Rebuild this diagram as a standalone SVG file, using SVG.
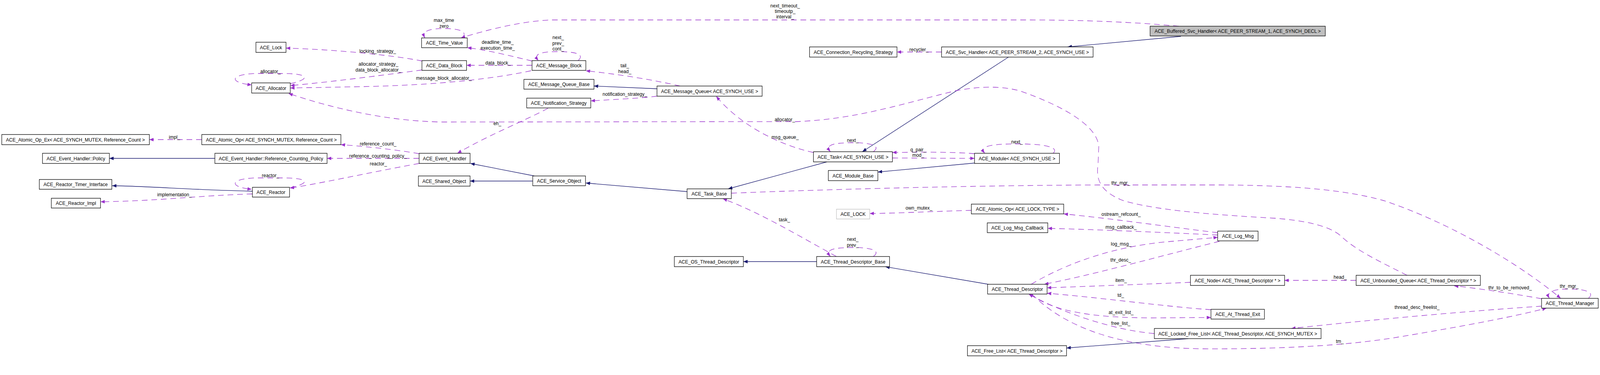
<svg xmlns="http://www.w3.org/2000/svg" width="4520" height="959" viewBox="0 0 4520 959">
<style>
.bg{fill:#ffffff}
.node rect{fill:#ffffff;stroke:#000000;stroke-width:1.3}
.node.root rect{fill:#bfbfbf}
.node.ext rect{stroke:#bfbfbf}
text{font-family:"Liberation Sans",Arial,sans-serif;font-size:13.3px;fill:#000000}
.node text{text-anchor:middle}
.lbl{text-anchor:middle}
.use{fill:none;stroke:#9a32cd;stroke-width:1.3;stroke-dasharray:16,11;marker-end:url(#ap)}
.loop{fill:none;stroke:#9a32cd;stroke-width:1.3;stroke-dasharray:16,11;marker-end:url(#ap)}
.inh{fill:none;stroke:#191970;stroke-width:1.3;marker-end:url(#an)}
</style>
<defs>
<marker id="ap" markerWidth="13" markerHeight="9" refX="12" refY="4.5" orient="auto" markerUnits="userSpaceOnUse"><path d="M0,0 L12,4.5 L0,9 z" fill="#9a32cd"/></marker>
<marker id="an" markerWidth="13" markerHeight="9" refX="12" refY="4.5" orient="auto" markerUnits="userSpaceOnUse"><path d="M0,0 L12,4.5 L0,9 z" fill="#191970"/></marker>
</defs>
<rect class="bg" x="0" y="0" width="4520" height="959"/>
<g id="diagram" transform="scale(0.906195,1)">
<g id="edges">
<path class="use" d="M570,357 L422,357"/>
<text class="lbl" x="493" y="355">impl_</text>
<path class="inh" d="M607,405 L309,405"/>
<path class="inh" d="M713,489 C550,486 420,476 317,475"/>
<path class="use" d="M713,496 C560,500 450,514 284,516"/>
<text class="lbl" x="493" y="502">implementation_</text>
<path class="loop" d="M820,480 C880,468 872,455 800,455 L720,455 C645,458 650,479 711,484"/>
<text class="lbl" x="764" y="453">reactor_</text>
<path class="loop" d="M820,214 C880,202 872,188 800,188 L720,188 C645,191 650,212 711,217"/>
<text class="lbl" x="764" y="187">allocator_</text>
<path class="use" d="M1184,418 C1050,440 900,470 819,481"/>
<text class="lbl" x="1069" y="423">reactor_</text>
<path class="use" d="M1184,405 L924,405"/>
<text class="lbl" x="1068" y="403">reference_counting_policy_</text>
<path class="use" d="M1184,393 C1100,380 1000,372 963,370"/>
<text class="lbl" x="1068" y="372">reference_count_</text>
<path class="inh" d="M1510,450 L1329,418"/>
<path class="inh" d="M1505,463 L1328,463"/>
<path class="inh" d="M1941,490 L1655,468"/>
<path class="use" d="M1548,277 C1480,310 1380,345 1292,392"/>
<text class="lbl" x="1405" y="320">eh_</text>
<path class="use" d="M1856,246 C1800,252 1720,255 1669,258"/>
<text class="lbl" x="1765" y="245">notification_strategy_</text>
<path class="inh" d="M1856,227 L1678,220"/>
<path class="use" d="M1921,220 C1850,205 1750,190 1655,181"/>
<text class="lbl" x="1765" y="172">tail_</text>
<text class="lbl" x="1765" y="187">head_</text>
<path class="loop" d="M1633,155 C1652,140 1630,132 1577,132 C1520,132 1508,140 1521,155"/>
<text class="lbl" x="1577" y="100">next_</text>
<text class="lbl" x="1577" y="115">prev_</text>
<text class="lbl" x="1577" y="129">cont_</text>
<path class="use" d="M1503,167 L1318,167"/>
<text class="lbl" x="1407" y="165">data_block_</text>
<path class="use" d="M1503,156 C1450,145 1380,128 1320,122"/>
<text class="lbl" x="1406" y="112">deadline_time_</text>
<text class="lbl" x="1406" y="127">execution_time_</text>
<path class="use" d="M1500,181 C1400,200 1250,218 1000,222 L820,225"/>
<text class="lbl" x="1254" y="204">message_block_allocator_</text>
<path class="use" d="M1192,179 C1100,190 950,208 820,219"/>
<text class="lbl" x="1069" y="168">allocator_strategy_</text>
<text class="lbl" x="1069" y="183">data_block_allocator_</text>
<path class="use" d="M1193,156 C1100,140 950,127 808,123"/>
<text class="lbl" x="1067" y="135">locking_strategy_</text>
<path class="loop" d="M1305,97 C1320,85 1310,73 1254,73 C1205,73 1193,82 1200,97"/>
<text class="lbl" x="1254" y="56">max_time</text>
<text class="lbl" x="1254" y="71">zero</text>
<path class="use" d="M3330,67 C3200,56 3050,51 2900,51 L1560,51 C1480,53 1380,75 1302,97"/>
<text class="lbl" x="2218" y="19">next_timeout_</text>
<text class="lbl" x="2218" y="33">timeoutp_</text>
<text class="lbl" x="2218" y="47">interval_</text>
<path class="inh" d="M3336,93 L3016,120"/>
<path class="use" d="M2660,133 L2534,133"/>
<text class="lbl" x="2596" y="131">recycler_</text>
<path class="inh" d="M2849,146 L2436,388"/>
<path class="inh" d="M2336,414 C2250,435 2150,460 2057,483"/>
<path class="loop" d="M2467,388 C2487,375 2470,365 2409,365 C2345,365 2333,373 2346,388"/>
<text class="lbl" x="2409" y="363">next_</text>
<path class="use" d="M2298,390 C2220,375 2100,330 2023,246"/>
<text class="lbl" x="2218" y="355">msg_queue_</text>
<path class="use" d="M2753,393 C2680,388 2600,389 2521,390"/>
<text class="lbl" x="2594" y="387">q_pair_</text>
<path class="use" d="M2521,404 L2753,405"/>
<text class="lbl" x="2594" y="401">mod_</text>
<path class="inh" d="M2753,417 L2480,440"/>
<path class="loop" d="M2975,392 C2992,378 2960,368 2873,368 C2790,368 2768,376 2782,392"/>
<text class="lbl" x="2873" y="367">next_</text>
<path class="use" d="M3975,704 C3900,670 3830,640 3790,605 C3760,580 3700,565 3600,558 C3400,548 3250,535 3170,512 C3110,490 3095,460 3102,420 L3104,375 C3100,320 3000,270 2880,232 C2820,218 2760,222 2700,232 C2550,265 2420,305 2250,311 L1250,312 C1100,310 950,280 815,239"/>
<text class="lbl" x="2217" y="310">allocator_</text>
<path class="use" d="M2066,494 C2400,482 2800,474 3100,473 L3450,473 C3650,474 3800,485 3909,513 C4100,570 4300,680 4409,763"/>
<text class="lbl" x="3166" y="472">thr_mgr_</text>
<path class="loop" d="M4487,763 C4507,748 4480,739 4432,739 C4385,739 4368,748 4377,763"/>
<text class="lbl" x="4433" y="736">thr_mgr_</text>
<path class="use" d="M4355,764 C4300,755 4200,740 4108,731"/>
<text class="lbl" x="4266" y="740">thr_to_be_removed_</text>
<path class="use" d="M3831,717 L3629,717"/>
<text class="lbl" x="3786" y="713">head_</text>
<path class="use" d="M3363,722 C3200,728 3050,733 2958,736"/>
<text class="lbl" x="3167" y="721">item_</text>
<path class="use" d="M3421,792 C3300,785 3100,760 2958,750"/>
<text class="lbl" x="3166" y="759">td_</text>
<path class="use" d="M2910,752 C2980,800 3100,812 3250,813 L3421,812"/>
<text class="lbl" x="3167" y="803">at_exit_list_</text>
<path class="use" d="M3261,853 C3150,845 3000,800 2906,752"/>
<text class="lbl" x="3166" y="831">free_list_</text>
<path class="use" d="M2915,752 C3000,830 3150,890 3400,892 C3600,893 3800,885 3950,862 C4150,832 4300,805 4369,788"/>
<text class="lbl" x="3785" y="877">tm_</text>
<path class="use" d="M4355,783 C4150,795 3850,820 3648,840"/>
<text class="lbl" x="4003" y="790">thread_desc_freelist_</text>
<path class="inh" d="M3357,866 L3013,890"/>
<path class="inh" d="M2792,727 L2501,682"/>
<path class="inh" d="M2307,669 L2100,669"/>
<path class="loop" d="M2467,656 C2487,643 2470,633 2409,633 C2345,633 2333,641 2346,656"/>
<text class="lbl" x="2409" y="616">next_</text>
<text class="lbl" x="2409" y="631">prev_</text>
<path class="use" d="M2363,656 C2250,600 2150,545 2042,508"/>
<text class="lbl" x="2216" y="566">task_</text>
<path class="use" d="M2744,538 C2650,540 2550,545 2457,546"/>
<text class="lbl" x="2596" y="536">own_mutex_</text>
<path class="use" d="M3440,595 C3300,580 3150,560 3005,547"/>
<text class="lbl" x="3167" y="552">ostream_refcount_</text>
<path class="use" d="M3440,601 C3300,595 3100,587 2960,584"/>
<text class="lbl" x="3167" y="585">msg_callback_</text>
<path class="use" d="M2913,727 C3020,670 3150,630 3300,618 L3440,607"/>
<text class="lbl" x="3167" y="628">log_msg_</text>
<path class="use" d="M3445,617 C3300,650 3100,700 2950,727"/>
<text class="lbl" x="3166" y="669">thr_desc_</text>
</g>
<g id="n1" class="node"><rect x="5" y="344" width="417" height="26"/><text x="213" y="361.7">ACE_Atomic_Op_Ex&lt; ACE_SYNCH_MUTEX, Reference_Count &gt;</text></g>
<g id="n2" class="node"><rect x="120" y="392" width="189" height="26"/><text x="214.5" y="409.7">ACE_Event_Handler::Policy</text></g>
<g id="n3" class="node"><rect x="111" y="459" width="205" height="25"/><text x="213.5" y="476.2">ACE_Reactor_Timer_Interface</text></g>
<g id="n4" class="node"><rect x="145" y="507" width="139" height="25"/><text x="214.5" y="524.2">ACE_Reactor_Impl</text></g>
<g id="n5" class="node"><rect x="723" y="108" width="85" height="26"/><text x="765.5" y="125.7">ACE_Lock</text></g>
<g id="n6" class="node"><rect x="711" y="212" width="109" height="26"/><text x="765.5" y="229.7">ACE_Allocator</text></g>
<g id="n7" class="node"><rect x="570" y="344" width="393" height="26"/><text x="766.5" y="361.7">ACE_Atomic_Op&lt; ACE_SYNCH_MUTEX, Reference_Count &gt;</text></g>
<g id="n8" class="node"><rect x="607" y="392" width="317" height="26"/><text x="765.5" y="409.7">ACE_Event_Handler::Reference_Counting_Policy</text></g>
<g id="n9" class="node"><rect x="713" y="479" width="105" height="25"/><text x="765.5" y="496.2">ACE_Reactor</text></g>
<g id="n10" class="node"><rect x="1191" y="97" width="129" height="25"/><text x="1255.5" y="114.2">ACE_Time_Value</text></g>
<g id="n11" class="node"><rect x="1192" y="155" width="126" height="25"/><text x="1255" y="172.2">ACE_Data_Block</text></g>
<g id="n12" class="node"><rect x="1184" y="392" width="144" height="26"/><text x="1256" y="409.7">ACE_Event_Handler</text></g>
<g id="n13" class="node"><rect x="1182" y="450" width="146" height="26"/><text x="1255" y="467.7">ACE_Shared_Object</text></g>
<g id="n14" class="node"><rect x="1503" y="155" width="152" height="25"/><text x="1579" y="172.2">ACE_Message_Block</text></g>
<g id="n15" class="node"><rect x="1480" y="203" width="198" height="25"/><text x="1579" y="220.2">ACE_Message_Queue_Base</text></g>
<g id="n16" class="node"><rect x="1488" y="251" width="181" height="25"/><text x="1578.5" y="268.2">ACE_Notification_Strategy</text></g>
<g id="n17" class="node"><rect x="1856" y="220" width="297" height="26"/><text x="2004.5" y="237.7">ACE_Message_Queue&lt; ACE_SYNCH_USE &gt;</text></g>
<g id="n18" class="node"><rect x="1505" y="450" width="149" height="25"/><text x="1579.5" y="467.2">ACE_Service_Object</text></g>
<g id="n19" class="node"><rect x="2287" y="120" width="247" height="26"/><text x="2410.5" y="137.7">ACE_Connection_Recycling_Strategy</text></g>
<g id="n20" class="node"><rect x="2660" y="120" width="428" height="26"/><text x="2874" y="137.7">ACE_Svc_Handler&lt; ACE_PEER_STREAM_2, ACE_SYNCH_USE &gt;</text></g>
<g id="n21" class="node"><rect x="2298" y="388" width="223" height="26"/><text x="2409.5" y="405.7">ACE_Task&lt; ACE_SYNCH_USE &gt;</text></g>
<g id="n22" class="node"><rect x="2753" y="392" width="240" height="26"/><text x="2873" y="409.7">ACE_Module&lt; ACE_SYNCH_USE &gt;</text></g>
<g id="n23" class="node"><rect x="2340" y="436" width="140" height="26"/><text x="2410" y="453.7">ACE_Module_Base</text></g>
<g id="n24" class="node root"><rect x="3249" y="67" width="495" height="25"/><text x="3496.5" y="84.2">ACE_Buffered_Svc_Handler&lt; ACE_PEER_STREAM_1, ACE_SYNCH_DECL &gt;</text></g>
<g id="n25" class="node"><rect x="1941" y="483" width="125" height="25"/><text x="2003.5" y="500.2">ACE_Task_Base</text></g>
<g id="n26" class="node"><rect x="1905" y="656" width="195" height="26"/><text x="2002.5" y="673.7">ACE_OS_Thread_Descriptor</text></g>
<g id="n27" class="node ext"><rect x="2363" y="535" width="94" height="25"/><text x="2410" y="552.2">ACE_LOCK</text></g>
<g id="n28" class="node"><rect x="2744" y="522" width="261" height="25"/><text x="2874.5" y="539.2">ACE_Atomic_Op&lt; ACE_LOCK, TYPE &gt;</text></g>
<g id="n29" class="node"><rect x="2789" y="570" width="171" height="25"/><text x="2874.5" y="587.2">ACE_Log_Msg_Callback</text></g>
<g id="n30" class="node"><rect x="2307" y="656" width="206" height="26"/><text x="2410" y="673.7">ACE_Thread_Descriptor_Base</text></g>
<g id="n31" class="node"><rect x="2790" y="727" width="168" height="25"/><text x="2874" y="744.2">ACE_Thread_Descriptor</text></g>
<g id="n32" class="node"><rect x="2733" y="884" width="280" height="26"/><text x="2873" y="901.7">ACE_Free_List&lt; ACE_Thread_Descriptor &gt;</text></g>
<g id="n33" class="node"><rect x="3440" y="591" width="114" height="25"/><text x="3497" y="608.2">ACE_Log_Msg</text></g>
<g id="n34" class="node"><rect x="3363" y="704" width="266" height="26"/><text x="3496" y="721.7">ACE_Node&lt; ACE_Thread_Descriptor * &gt;</text></g>
<g id="n35" class="node"><rect x="3421" y="791" width="151" height="25"/><text x="3496.5" y="808.2">ACE_At_Thread_Exit</text></g>
<g id="n36" class="node"><rect x="3261" y="840" width="471" height="26"/><text x="3496.5" y="857.7">ACE_Locked_Free_List&lt; ACE_Thread_Descriptor, ACE_SYNCH_MUTEX &gt;</text></g>
<g id="n37" class="node"><rect x="3831" y="704" width="351" height="26"/><text x="4006.5" y="721.7">ACE_Unbounded_Queue&lt; ACE_Thread_Descriptor * &gt;</text></g>
<g id="n38" class="node"><rect x="4355" y="763" width="160" height="25"/><text x="4435" y="780.2">ACE_Thread_Manager</text></g>
</g>
</svg>
